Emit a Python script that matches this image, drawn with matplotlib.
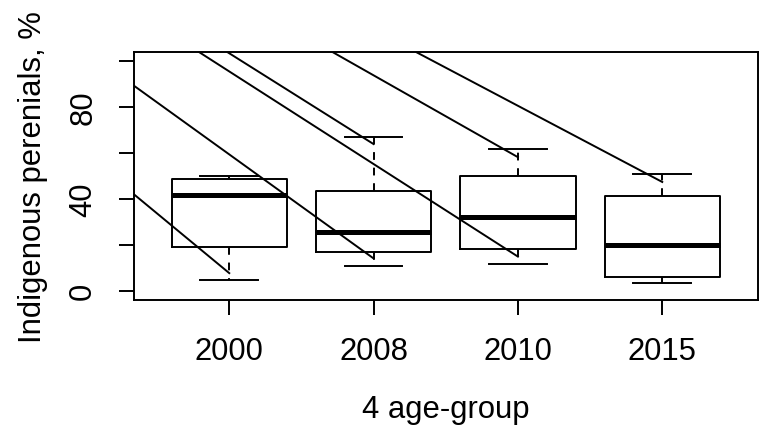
import matplotlib
matplotlib.use("Agg")
import matplotlib.pyplot as plt

plt.rcParams['font.family'] = ['Liberation Sans', 'DejaVu Sans']

# box statistics per year: lower whisker, Q1, median, Q3, upper whisker
years = ['2000', '2008', '2010', '2015']
whis_lo = [4.5, 11.0, 11.7, 3.6]
q1 = [19.0, 16.8, 18.2, 6.1]
med = [41.9, 25.7, 32.2, 20.1]
q3 = [48.5, 43.5, 50.1, 41.1]
whis_hi = [50.1, 67.1, 61.6, 50.8]

# straight segments overlaid on the boxes (start -> end, group index / %)
seg_x0 = [0.34, 0.34, 0.986, 0.790, 1.715, 2.294]
seg_y0 = [42.0, 89.3, 104.0, 104.0, 104.0, 104.0]
seg_x1 = [1, 2, 2, 3, 3, 4]
seg_y1 = [7.7, 14.1, 63.9, 14.9, 58.2, 47.4]

yticks = [0, 20, 40, 60, 80, 100]
ylabels = ['0', '', '40', '', '80', '']

lw = 1.4
fs = 22.3

fig = plt.figure(figsize=(7.59, 4.27), dpi=100)
ax = fig.add_axes([134 / 759, 1 - 301 / 427, (757.5 - 134) / 759, (301 - 53) / 427])

stats = []
for i in range(len(years)):
    stats.append(dict(whislo=whis_lo[i], q1=q1[i], med=med[i], q3=q3[i],
                      whishi=whis_hi[i], fliers=[]))

ax.bxp(stats, positions=range(1, len(years) + 1), widths=0.8, capwidths=0.4,
       showfliers=False,
       boxprops=dict(color='black', linewidth=lw),
       medianprops=dict(color='black', linewidth=3.6, solid_capstyle='butt'),
       whiskerprops=dict(color='black', linewidth=lw, linestyle=(0, (4, 4))),
       capprops=dict(color='black', linewidth=lw))

for x0, y0, x1, y1 in zip(seg_x0, seg_y0, seg_x1, seg_y1):
    ax.plot([x0, x1], [y0, y1], color='black', linewidth=lw)

ax.set_xlim(0.34, 4.66)
ax.set_ylim(-4, 104)

ax.set_xticks(range(1, len(years) + 1))
ax.set_xticklabels(years)
ax.set_yticks(yticks)
ax.set_yticklabels(ylabels, rotation=90, va='center')

ax.tick_params(length=10.8, width=lw, pad=15, labelsize=fs)
for s in ax.spines.values():
    s.set_linewidth(lw)

ax.set_xlabel('4 age-group', fontsize=fs, va='baseline')
ax.xaxis.set_label_coords(0.5, (301 - 418) / 248)
ax.set_ylabel('Indigenous perenials, %', fontsize=fs, va='baseline')
ax.yaxis.set_label_coords((41 - 134) / 623.5, 0.5)

fig.savefig('out.png', dpi=100)
